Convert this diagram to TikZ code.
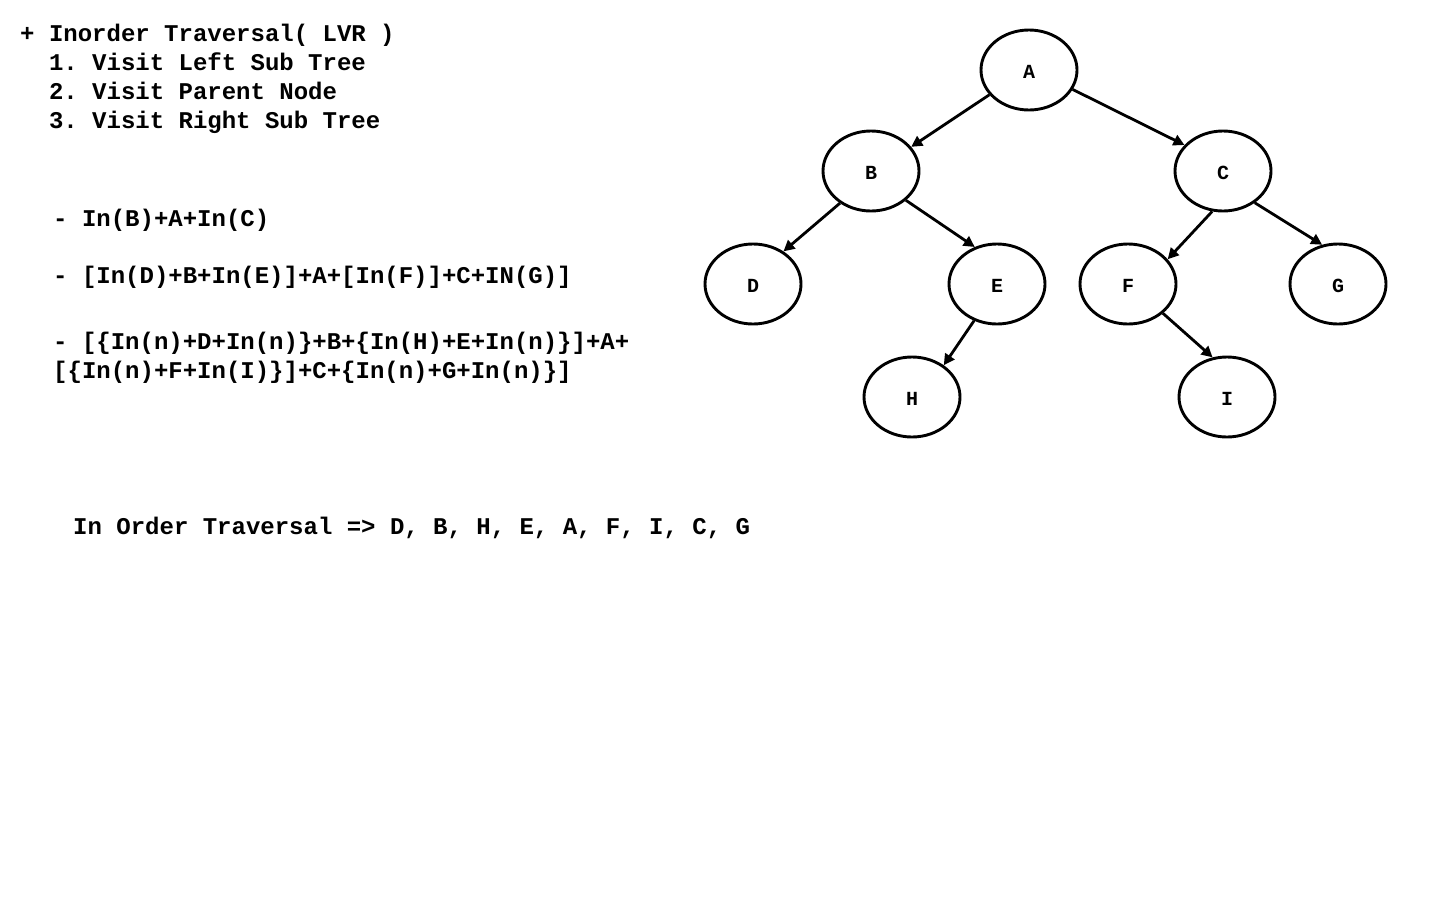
\documentclass[tikz,border=0pt]{standalone}
\usepackage{fontspec}
\setmonofont{Liberation Mono}
\usetikzlibrary{arrows.meta,shapes.geometric}
\begin{document}
\begin{tikzpicture}[x=1pt,y=-1pt,
  treenode/.style={ellipse,draw,line width=2.9pt,minimum width=96pt,minimum height=80pt,inner sep=0pt,
    text height=17pt,text depth=0pt,font=\fontsize{20}{24}\selectfont\ttfamily\bfseries},
  edge/.style={line width=2.8pt,-{Triangle[length=11pt,width=11pt]}},
  txt/.style={anchor=base west,inner sep=0pt,font=\fontsize{24}{29}\selectfont\ttfamily\bfseries}]
\useasboundingbox[fill=white] (0,0) rectangle (1440,900);

% rules of the traversal
\node[txt] (title) at (20,41) {+ Inorder Traversal( LVR )};
\node[txt] (r1) at (48.8,70) {1. Visit Left Sub Tree};
\node[txt] (r2) at (48.8,99) {2. Visit Parent Node};
\node[txt] (r3) at (48.8,128) {3. Visit Right Sub Tree};

% expansion steps
\node[txt] (s1) at (53,226) {- In(B)+A+In(C)};
\node[txt] (s2) at (53,283) {- [In(D)+B+In(E)]+A+[In(F)]+C+IN(G)]};
\node[txt] (s3) at (53,349) {- [\{In(n)+D+In(n)\}+B+\{In(H)+E+In(n)\}]+A+};
\node[txt] (s4) at (53,378) {[\{In(n)+F+In(I)\}]+C+\{In(n)+G+In(n)\}]};

% result
\node[txt] (res) at (73,534) {In Order Traversal => D, B, H, E, A, F, I, C, G};

% binary tree
\node[treenode] (A) at (1029,70) {A};
\node[treenode] (B) at (871,171) {B};
\node[treenode] (C) at (1223,171) {C};
\node[treenode] (D) at (753,284) {D};
\node[treenode] (E) at (997,284) {E};
\node[treenode] (F) at (1128,284) {F};
\node[treenode] (G) at (1338,284) {G};
\node[treenode] (H) at (912,397) {H};
\node[treenode] (I) at (1227,397) {I};

\draw[edge] (A.212) -- (B.31);
\draw[edge] (A.336) -- (C.146);
\draw[edge] (B.226) -- (D.47);
\draw[edge] (B.320) -- (E.121);
\draw[edge] (C.255) -- (F.32);
\draw[edge] (C.315) -- (G.112);
\draw[edge] (E.238) -- (H.45);
\draw[edge] (F.320) -- (I.110);
\end{tikzpicture}
\end{document}
